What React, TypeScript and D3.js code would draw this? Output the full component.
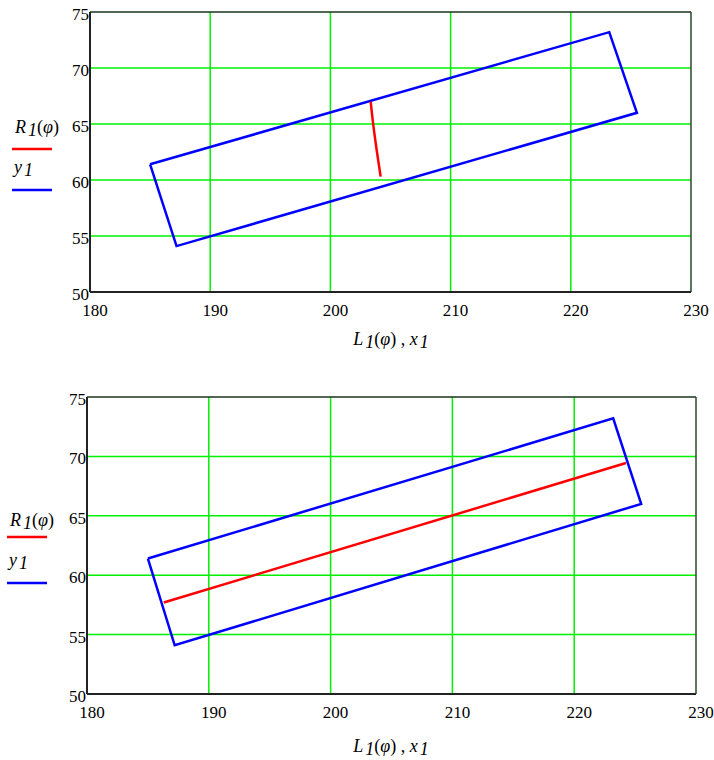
import React from "react";
import * as d3 from "d3";

// rectangle outline y1 vs x1 (closed)
const rectX = [185.0, 187.2, 225.5, 223.2, 185.0];
const rectY = [61.4, 54.1, 66.0, 73.2, 61.4];

// R1(φ) vs L1(φ): top panel (short arc), bottom panel (straight segment)
const topRedX = [203.35, 203.57, 203.85, 204.18];
const topRedY = [67.0, 64.9, 62.68, 60.3];
const botRedX = [186.3, 224.25];
const botRedY = [57.7, 69.44];

const xTicks = [180, 190, 200, 210, 220, 230];
const yTicks = [50, 55, 60, 65, 70, 75];

const FONT = "Liberation Serif";

type PanelProps = {
  left: number; right: number; top: number; bottom: number;
  redX: number[]; redY: number[];
  legTop: number; legLeft: number; redOff: number; titleY: number;
};

const panels: PanelProps[] = [
  { left: 90, right: 691, top: 12, bottom: 292, redX: topRedX, redY: topRedY, legTop: 133, legLeft: 12, redOff: 16, titleY: 345 },
  { left: 87, right: 696, top: 397, bottom: 694, redX: botRedX, redY: botRedY, legTop: 526, legLeft: 7, redOff: 11, titleY: 752 },
];

function Panel(p: PanelProps) {
  const x = d3.scaleLinear().domain([180, 230]).range([p.left, p.right]);
  const y = d3.scaleLinear().domain([50, 75]).range([p.bottom, p.top]);
  const line = d3.line<[number, number]>().x(d => x(d[0])).y(d => y(d[1]));
  const curve = d3.line<[number, number]>().x(d => x(d[0])).y(d => y(d[1])).curve(d3.curveCatmullRom);
  const rect = line(rectX.map((v, i) => [v, rectY[i]] as [number, number])) || "";
  const red = curve(p.redX.map((v, i) => [v, p.redY[i]] as [number, number])) || "";
  const txt = { fontFamily: FONT, fontSize: 17 };
  const lab = { fontFamily: FONT, fontSize: 18 };

  return (
    <g>
      {xTicks.slice(1, -1).map(d => (
        <line key={"gx" + d} x1={x(d)} x2={x(d)} y1={p.top} y2={p.bottom} stroke="#00f000" strokeWidth={1.5} />
      ))}
      {yTicks.slice(1, -1).map(d => (
        <line key={"gy" + d} x1={p.left} x2={p.right} y1={y(d)} y2={y(d)} stroke="#00f000" strokeWidth={1.5} />
      ))}
      <line x1={p.left} x2={p.right} y1={p.top} y2={p.top} stroke="#1a331a" strokeWidth={1.5} />
      <line x1={p.right} x2={p.right} y1={p.top} y2={p.bottom} stroke="#2a4a2a" strokeWidth={1.5} />
      <line x1={p.left} x2={p.right} y1={p.bottom} y2={p.bottom} stroke="#222" strokeWidth={2} />
      <line x1={p.left} x2={p.left} y1={p.top} y2={p.bottom} stroke="#222" strokeWidth={2} />

      {yTicks.map(d => (
        <text key={"ty" + d} x={p.left - 1} y={y(d) + 8} textAnchor="end" style={txt}>{d}</text>
      ))}
      {xTicks.map(d => (
        <text key={"tx" + d} x={x(d) + 5} y={p.bottom + 24} textAnchor="middle" style={txt}>{d}</text>
      ))}

      <path d={rect} fill="none" stroke="#0000ff" strokeWidth={2.5} />
      <path d={red} fill="none" stroke="#ff0000" strokeWidth={2.5} />

      {/* legend */}
      <text x={p.legLeft + 3} y={p.legTop} style={lab}>
        <tspan fontStyle="italic">R</tspan>
        <tspan fontStyle="italic" dx={2} dy={3}>1</tspan>
        <tspan dy={-3}>(</tspan>
        <tspan fontStyle="italic">φ</tspan>
        <tspan>)</tspan>
      </text>
      <line x1={p.legLeft} x2={p.legLeft + 40} y1={p.legTop + p.redOff} y2={p.legTop + p.redOff} stroke="#ff0000" strokeWidth={2.5} />
      <text x={p.legLeft + 2} y={p.legTop + 40} style={lab}>
        <tspan fontStyle="italic">y</tspan>
        <tspan fontStyle="italic" dx={2} dy={3}>1</tspan>
      </text>
      <line x1={p.legLeft} x2={p.legLeft + 40} y1={p.legTop + 57} y2={p.legTop + 57} stroke="#0000ff" strokeWidth={2.5} />

      {/* axis title */}
      <text x={391} y={p.titleY} textAnchor="middle" style={lab}>
        <tspan fontStyle="italic">L</tspan>
        <tspan fontStyle="italic" dx={2} dy={3}>1</tspan>
        <tspan dy={-3}>(</tspan>
        <tspan fontStyle="italic">φ</tspan>
        <tspan>) , </tspan>
        <tspan fontStyle="italic">x</tspan>
        <tspan fontStyle="italic" dx={2} dy={3}>1</tspan>
      </text>
    </g>
  );
}

export default function App() {
  return (
    <svg width={714} height={760} style={{ position: "absolute", left: 0, top: 0, background: "#fff" }}>
      {panels.map((p, i) => <Panel key={i} {...p} />)}
    </svg>
  );
}
